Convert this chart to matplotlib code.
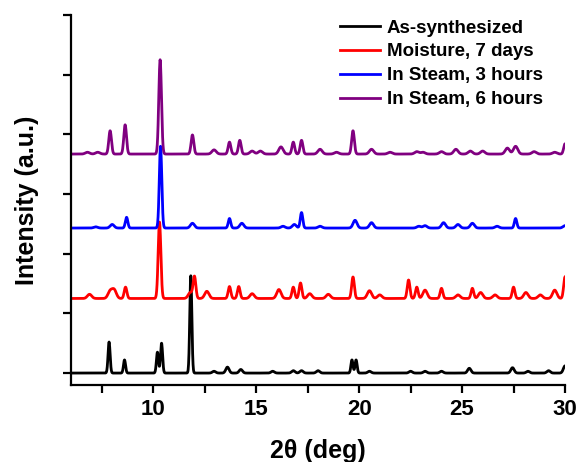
import numpy as np
import matplotlib
matplotlib.use("Agg")
import matplotlib.pyplot as plt
from matplotlib.ticker import MultipleLocator, FuncFormatter

plt.rcParams['font.family'] = ['Liberation Sans', 'DejaVu Sans']
plt.rcParams['font.weight'] = 'bold'

# peak tables: 2theta (deg), height above baseline (tick units)
labels = ["As-synthesized", "Moisture, 7 days", "In Steam, 3 hours", "In Steam, 6 hours"]
colors = ["black", "#ff0000", "#0000ff", "#800080"]
baselines = [0.0, 1.25, 2.43, 3.67]
widths = [0.05, 0.065, 0.06, 0.065]

black_pos = [7.85, 8.6, 10.2, 10.4, 11.82, 12.95, 13.6, 14.25, 15.8, 16.8, 17.2, 18.0,
             19.65, 19.85, 20.5, 22.5, 23.2, 24.0, 25.35, 27.45, 28.2, 29.2, 30.0]
black_h = [0.52, 0.22, 0.35, 0.50, 1.63, 0.03, 0.10, 0.06, 0.03, 0.04, 0.04, 0.04,
           0.22, 0.22, 0.03, 0.03, 0.03, 0.03, 0.08, 0.09, 0.03, 0.04, 0.12]

red_pos = [6.9, 7.9, 8.1, 8.65, 10.3, 11.8, 12.0, 12.6, 13.7, 14.15, 14.8, 16.1, 16.8,
           17.15, 17.6, 18.5, 19.7, 20.5, 21.0, 22.4, 22.8, 23.2, 24.0, 24.8, 25.5,
           25.9, 26.6, 27.5, 28.1, 28.8, 29.5, 30.0]
red_h = [0.07, 0.12, 0.14, 0.19, 1.28, 0.10, 0.36, 0.12, 0.20, 0.20, 0.08, 0.15, 0.19,
         0.26, 0.08, 0.07, 0.36, 0.13, 0.06, 0.31, 0.19, 0.14, 0.17, 0.06, 0.17,
         0.10, 0.06, 0.19, 0.10, 0.06, 0.14, 0.36]

blue_pos = [7.2, 8.0, 8.7, 10.35, 11.9, 13.7, 14.3, 16.3, 16.85, 17.2, 18.1, 19.8,
            20.6, 22.9, 23.2, 24.1, 24.8, 25.5, 26.7, 27.6, 30.0]
blue_h = [0.02, 0.06, 0.18, 1.37, 0.08, 0.16, 0.08, 0.03, 0.06, 0.26, 0.03, 0.13,
          0.09, 0.03, 0.04, 0.09, 0.06, 0.08, 0.03, 0.16, 0.04]

purple_pos = [6.8, 7.3, 7.9, 8.63, 10.33, 11.9, 12.95, 13.7, 14.2, 14.8, 15.2, 16.2,
              16.8, 17.2, 18.1, 18.9, 19.7, 20.6, 21.5, 22.8, 23.1, 24.0, 24.7, 25.4,
              26.0, 27.2, 27.6, 28.5, 29.5, 30.0]
purple_h = [0.03, 0.03, 0.39, 0.49, 1.58, 0.32, 0.07, 0.20, 0.23, 0.05, 0.05, 0.12,
            0.20, 0.23, 0.08, 0.03, 0.39, 0.08, 0.03, 0.04, 0.03, 0.04, 0.08, 0.05,
            0.05, 0.10, 0.13, 0.04, 0.03, 0.17]

peak_tables = [(black_pos, black_h), (red_pos, red_h), (blue_pos, blue_h), (purple_pos, purple_h)]

two_theta = np.linspace(6, 30, 2401)


def pattern(pos, heights, w, base):
    y = np.full_like(two_theta, base)
    for p, h in zip(pos, heights):
        # small bumps are a bit broader than the sharp reflections
        s = w if h > 0.15 else w * 1.6
        y += h * np.exp(-0.5 * ((two_theta - p) / s) ** 2)
    return y


W, H = 577, 462
fig = plt.figure(figsize=(W / 100, H / 100), dpi=100)
ax = fig.add_axes([71 / W, 1 - 385 / H, (565 - 71) / W, (385 - 15) / H])

for (pos, hts), lab, col, base, w in zip(peak_tables, labels, colors, baselines, widths):
    ax.plot(two_theta, pattern(pos, hts, w, base), color=col, lw=2.0, label=lab)

ax.set_xlim(6, 30)
ax.set_ylim(-0.2, 6)
ax.xaxis.set_major_locator(MultipleLocator(2.5))
ax.xaxis.set_major_formatter(FuncFormatter(lambda v, _: f"{v:.0f}" if v % 5 == 0 else ""))
ax.yaxis.set_major_locator(MultipleLocator(1))
ax.set_yticklabels([])

for side in ["top", "right"]:
    ax.spines[side].set_visible(False)
for side in ["left", "bottom"]:
    ax.spines[side].set_linewidth(1.6)
ax.tick_params(width=1.6, length=6, direction="out", labelsize=16, pad=4)

ax.set_xlabel("2θ (deg)", fontsize=18, fontweight="bold", labelpad=14)
ax.set_ylabel("Intensity (a.u.)", fontsize=18, fontweight="bold", labelpad=13)

ax.legend(loc="upper right", bbox_to_anchor=(543 / W, 1 - 19.5 / H),
          bbox_transform=fig.transFigure, frameon=False, fontsize=13.5,
          handlelength=2.1, handletextpad=0.4, labelspacing=0.36, borderpad=0,
          borderaxespad=0)

fig.savefig("out.png", dpi=100)
